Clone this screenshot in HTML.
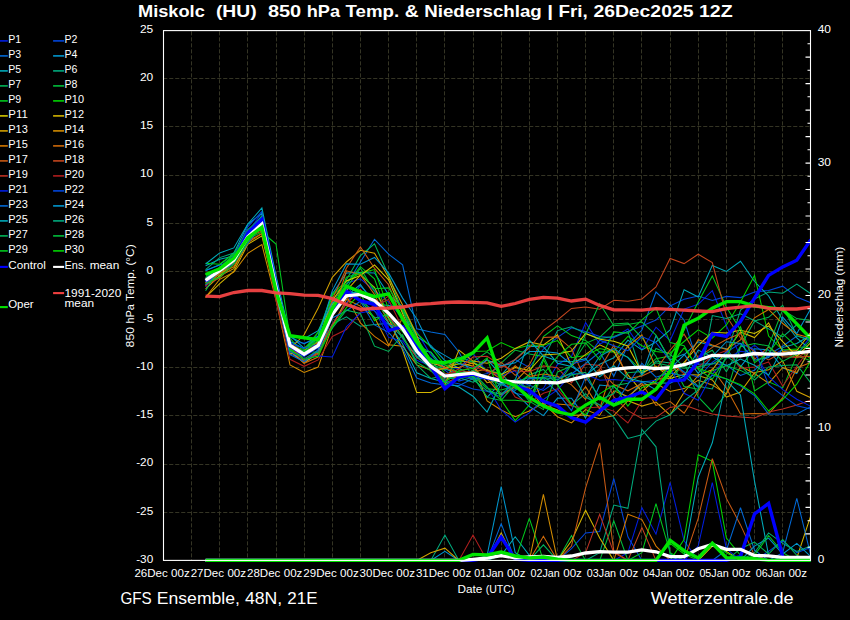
<!DOCTYPE html>
<html><head><meta charset="utf-8"><title>GFS Ensemble Miskolc</title>
<style>html,body{margin:0;padding:0;background:#000;overflow:hidden}svg{display:block;}text{font-family:"Liberation Sans",sans-serif;fill:#fff;}</style></head><body>
<svg width="850" height="620" viewBox="0 0 850 620">
<rect width="850" height="620" fill="#000"/>
<path d="M191.5 560.4 V30.6 M219.5 560.4 V30.6 M247.5 560.4 V30.6 M276.5 560.4 V30.6 M304.5 560.4 V30.6 M332.5 560.4 V30.6 M360.5 560.4 V30.6 M388.5 560.4 V30.6 M416.5 560.4 V30.6 M444.5 560.4 V30.6 M473.5 560.4 V30.6 M501.5 560.4 V30.6 M529.5 560.4 V30.6 M557.5 560.4 V30.6 M585.5 560.4 V30.6 M613.5 560.4 V30.6 M641.5 560.4 V30.6 M670.5 560.4 V30.6 M698.5 560.4 V30.6 M726.5 560.4 V30.6 M754.5 560.4 V30.6 M782.5 560.4 V30.6" stroke="#343424" stroke-width="1" stroke-dasharray="4.1 1.9" stroke-dashoffset="3" fill="none"/>
<path d="M163.2 512.5 H810.5 M163.2 464.5 H810.5 M163.2 415.5 H810.5 M163.2 367.5 H810.5 M163.2 319.5 H810.5 M163.2 271.5 H810.5 M163.2 223.5 H810.5 M163.2 175.5 H810.5 M163.2 126.5 H810.5 M163.2 78.5 H810.5" stroke="#343424" stroke-width="1" stroke-dasharray="4.1 1.9" fill="none"/>
<clipPath id="c"><rect x="163.5" y="30.6" width="647.6" height="532.8"/></clipPath>
<g clip-path="url(#c)" fill="none" stroke-linejoin="miter" stroke-miterlimit="3">
<path d="M205.6 286.8 L219.7 269.7 L233.8 258.1 L247.8 232.0 L261.9 212.8 L276.0 280.5 L290.0 342.2 L304.1 343.0 L318.2 339.5 L332.3 309.9 L346.4 283.2 L360.4 278.8 L374.5 290.5 L388.6 301.9 L402.6 318.4 L416.7 331.7 L430.8 355.1 L444.9 367.2 L458.9 368.5 L473.0 353.4 L487.1 372.4 L501.2 375.9 L515.2 370.7 L529.3 394.6 L543.4 388.4 L557.5 364.5 L571.5 356.4 L585.6 322.7 L599.7 344.0 L613.8 337.4 L627.9 329.0 L641.9 349.9 L656.0 327.2 L670.1 340.5 L684.1 309.1 L698.2 304.3 L712.3 290.7 L726.4 325.8 L740.5 356.7 L754.5 345.1 L768.6 357.2 L782.7 349.6 L796.8 354.5 L810.8 336.4" stroke="#001ee1" stroke-width="1.05"/>
<path d="M205.6 270.6 L219.7 265.0 L233.8 261.5 L247.8 236.1 L261.9 218.9 L276.0 293.2 L290.0 353.4 L304.1 361.9 L318.2 353.8 L332.3 324.3 L346.4 302.9 L360.4 285.8 L374.5 300.8 L388.6 313.3 L402.6 338.8 L416.7 356.0 L430.8 358.0 L444.9 370.1 L458.9 381.1 L473.0 377.3 L487.1 373.5 L501.2 366.5 L515.2 359.5 L529.3 367.4 L543.4 349.0 L557.5 337.4 L571.5 327.7 L585.6 331.6 L599.7 336.4 L613.8 337.4 L627.9 331.6 L641.9 326.0 L656.0 320.0 L670.1 306.0 L684.1 299.3 L698.2 296.0 L712.3 300.5 L726.4 296.4 L740.5 297.6 L754.5 292.0 L768.6 290.4 L782.7 286.2 L796.8 297.1 L810.8 302.7" stroke="#0046dc" stroke-width="1.05"/>
<path d="M205.6 281.1 L219.7 271.2 L233.8 259.4 L247.8 233.3 L261.9 216.1 L276.0 281.9 L290.0 350.8 L304.1 361.8 L318.2 349.6 L332.3 314.6 L346.4 285.0 L360.4 262.0 L374.5 239.3 L388.6 254.2 L402.6 264.8 L416.7 328.7 L430.8 332.0 L444.9 334.5 L458.9 352.0 L473.0 378.0 L487.1 377.5 L501.2 382.5 L515.2 393.3 L529.3 396.4 L543.4 375.7 L557.5 378.0 L571.5 373.9 L585.6 363.5 L599.7 352.1 L613.8 376.3 L627.9 345.0 L641.9 330.0 L656.0 292.0 L670.1 305.0 L684.1 320.0 L698.2 364.3 L712.3 363.5 L726.4 365.1 L740.5 375.4 L754.5 370.3 L768.6 354.6 L782.7 346.2 L796.8 336.0 L810.8 339.4" stroke="#0069d7" stroke-width="1.05"/>
<path d="M205.6 270.4 L219.7 264.8 L233.8 253.2 L247.8 224.4 L261.9 213.4 L276.0 277.2 L290.0 341.4 L304.1 348.8 L318.2 336.0 L332.3 294.0 L346.4 272.9 L360.4 272.6 L374.5 273.0 L388.6 294.6 L402.6 306.9 L416.7 336.7 L430.8 345.5 L444.9 360.5 L458.9 368.3 L473.0 376.2 L487.1 397.3 L501.2 382.1 L515.2 392.5 L529.3 406.5 L543.4 415.6 L557.5 398.1 L571.5 398.2 L585.6 417.9 L599.7 385.0 L613.8 386.6 L627.9 398.7 L641.9 381.8 L656.0 389.9 L670.1 368.9 L684.1 354.9 L698.2 341.8 L712.3 345.9 L726.4 348.8 L740.5 366.9 L754.5 348.7 L768.6 350.0 L782.7 367.9 L796.8 373.7 L810.8 347.3" stroke="#0096cd" stroke-width="1.05"/>
<path d="M205.6 265.7 L219.7 259.3 L233.8 256.0 L247.8 236.8 L261.9 219.8 L276.0 281.2 L290.0 335.7 L304.1 348.1 L318.2 338.3 L332.3 313.3 L346.4 295.9 L360.4 284.5 L374.5 303.8 L388.6 305.4 L402.6 307.2 L416.7 349.8 L430.8 352.0 L444.9 368.8 L458.9 374.2 L473.0 372.7 L487.1 359.3 L501.2 375.2 L515.2 359.4 L529.3 346.2 L543.4 346.7 L557.5 363.2 L571.5 366.6 L585.6 375.5 L599.7 364.2 L613.8 357.8 L627.9 340.1 L641.9 350.0 L656.0 342.0 L670.1 330.0 L684.1 289.7 L698.2 297.0 L712.3 265.4 L726.4 271.4 L740.5 261.3 L754.5 281.5 L768.6 296.0 L782.7 320.0 L796.8 338.0 L810.8 350.0" stroke="#00aab9" stroke-width="1.05"/>
<path d="M205.6 277.5 L219.7 269.3 L233.8 258.9 L247.8 236.3 L261.9 224.0 L276.0 289.4 L290.0 345.8 L304.1 358.9 L318.2 350.4 L332.3 324.3 L346.4 316.9 L360.4 326.3 L374.5 324.6 L388.6 323.4 L402.6 337.5 L416.7 356.8 L430.8 358.6 L444.9 379.1 L458.9 377.5 L473.0 382.3 L487.1 375.5 L501.2 393.7 L515.2 386.8 L529.3 386.0 L543.4 358.7 L557.5 330.6 L571.5 326.8 L585.6 333.5 L599.7 338.4 L613.8 336.4 L627.9 331.6 L641.9 375.0 L656.0 361.1 L670.1 363.0 L684.1 372.2 L698.2 386.3 L712.3 388.9 L726.4 355.3 L740.5 310.0 L754.5 299.0 L768.6 292.0 L782.7 293.3 L796.8 284.1 L810.8 293.8" stroke="#00aa7d" stroke-width="1.05"/>
<path d="M205.6 278.1 L219.7 273.2 L233.8 262.4 L247.8 236.6 L261.9 225.4 L276.0 291.0 L290.0 346.0 L304.1 352.4 L318.2 332.3 L332.3 304.5 L346.4 279.7 L360.4 255.7 L374.5 243.9 L388.6 275.3 L402.6 311.8 L416.7 337.8 L430.8 359.6 L444.9 363.5 L458.9 357.0 L473.0 361.8 L487.1 370.3 L501.2 373.5 L515.2 388.8 L529.3 374.9 L543.4 369.4 L557.5 384.9 L571.5 404.9 L585.6 393.6 L599.7 408.7 L613.8 385.7 L627.9 383.3 L641.9 374.5 L656.0 348.5 L670.1 354.3 L684.1 366.9 L698.2 357.7 L712.3 350.3 L726.4 371.7 L740.5 346.3 L754.5 320.9 L768.6 317.3 L782.7 305.3 L796.8 335.5 L810.8 341.1" stroke="#00b45a" stroke-width="1.05"/>
<path d="M205.6 274.5 L219.7 275.7 L233.8 261.3 L247.8 235.6 L261.9 223.7 L276.0 288.4 L290.0 347.0 L304.1 351.2 L318.2 336.9 L332.3 307.7 L346.4 287.9 L360.4 268.2 L374.5 291.5 L388.6 314.3 L402.6 326.6 L416.7 346.9 L430.8 364.3 L444.9 369.6 L458.9 361.3 L473.0 361.8 L487.1 351.9 L501.2 363.1 L515.2 350.0 L529.3 354.0 L543.4 356.4 L557.5 385.0 L571.5 364.8 L585.6 343.3 L599.7 337.4 L613.8 324.1 L627.9 323.1 L641.9 337.8 L656.0 356.3 L670.1 381.5 L684.1 362.3 L698.2 396.9 L712.3 411.7 L726.4 393.5 L740.5 346.7 L754.5 343.5 L768.6 346.0 L782.7 309.7 L796.8 318.6 L810.8 320.4" stroke="#00be3c" stroke-width="1.05"/>
<path d="M205.6 284.6 L219.7 276.0 L233.8 262.1 L247.8 239.2 L261.9 232.0 L276.0 244.0 L290.0 338.0 L304.1 355.1 L318.2 343.7 L332.3 295.3 L346.4 283.8 L360.4 266.7 L374.5 278.8 L388.6 318.2 L402.6 331.6 L416.7 344.6 L430.8 352.6 L444.9 373.7 L458.9 373.0 L473.0 375.9 L487.1 388.8 L501.2 390.0 L515.2 386.0 L529.3 374.5 L543.4 336.6 L557.5 325.9 L571.5 335.6 L585.6 340.4 L599.7 352.1 L613.8 351.7 L627.9 357.1 L641.9 371.1 L656.0 358.7 L670.1 356.0 L684.1 330.0 L698.2 302.0 L712.3 275.9 L726.4 307.0 L740.5 330.0 L754.5 390.9 L768.6 381.8 L782.7 387.9 L796.8 355.8 L810.8 360.8" stroke="#00c81e" stroke-width="1.05"/>
<path d="M205.6 263.3 L219.7 264.2 L233.8 253.5 L247.8 232.1 L261.9 217.8 L276.0 283.3 L290.0 345.9 L304.1 349.4 L318.2 332.2 L332.3 294.0 L346.4 281.1 L360.4 273.0 L374.5 269.6 L388.6 309.2 L402.6 307.8 L416.7 333.2 L430.8 346.8 L444.9 365.3 L458.9 364.2 L473.0 351.5 L487.1 351.0 L501.2 342.6 L515.2 348.8 L529.3 345.2 L543.4 345.2 L557.5 340.6 L571.5 357.7 L585.6 355.5 L599.7 348.5 L613.8 351.5 L627.9 336.4 L641.9 345.7 L656.0 351.6 L670.1 353.2 L684.1 341.5 L698.2 329.9 L712.3 338.2 L726.4 325.0 L740.5 302.0 L754.5 275.4 L768.6 336.0 L782.7 350.0 L796.8 349.0 L810.8 358.8" stroke="#00d400" stroke-width="1.05"/>
<path d="M205.6 283.2 L219.7 269.1 L233.8 261.6 L247.8 236.7 L261.9 225.3 L276.0 284.6 L290.0 354.0 L304.1 350.7 L318.2 341.1 L332.3 300.6 L346.4 281.0 L360.4 275.5 L374.5 265.0 L388.6 279.9 L402.6 313.6 L416.7 346.7 L430.8 362.7 L444.9 366.9 L458.9 367.5 L473.0 362.7 L487.1 370.8 L501.2 374.6 L515.2 367.5 L529.3 370.5 L543.4 355.0 L557.5 353.9 L571.5 351.0 L585.6 333.5 L599.7 339.3 L613.8 341.3 L627.9 346.0 L641.9 372.7 L656.0 366.3 L670.1 377.6 L684.1 362.5 L698.2 345.5 L712.3 332.3 L726.4 333.0 L740.5 330.3 L754.5 333.4 L768.6 326.0 L782.7 341.7 L796.8 356.4 L810.8 342.6" stroke="#d2c800" stroke-width="1.05"/>
<path d="M205.6 297.3 L219.7 283.6 L233.8 271.5 L247.8 244.3 L261.9 235.8 L276.0 296.3 L290.0 351.1 L304.1 363.1 L318.2 352.8 L332.3 304.3 L346.4 290.7 L360.4 275.2 L374.5 287.4 L388.6 318.0 L402.6 350.0 L416.7 392.5 L430.8 392.5 L444.9 385.0 L458.9 350.0 L473.0 361.1 L487.1 363.3 L501.2 358.2 L515.2 348.4 L529.3 341.9 L543.4 345.0 L557.5 334.9 L571.5 365.7 L585.6 354.3 L599.7 344.8 L613.8 351.5 L627.9 374.9 L641.9 391.6 L656.0 379.1 L670.1 378.6 L684.1 374.5 L698.2 375.0 L712.3 369.7 L726.4 351.3 L740.5 332.0 L754.5 337.6 L768.6 322.8 L782.7 351.4 L796.8 350.6 L810.8 332.3" stroke="#d2b400" stroke-width="1.05"/>
<path d="M205.6 288.9 L219.7 275.8 L233.8 268.6 L247.8 241.6 L261.9 226.3 L276.0 286.5 L290.0 348.8 L304.1 334.8 L318.2 308.0 L332.3 277.4 L346.4 262.0 L360.4 250.3 L374.5 253.2 L388.6 277.4 L402.6 305.0 L416.7 335.0 L430.8 370.9 L444.9 368.4 L458.9 363.6 L473.0 366.1 L487.1 382.7 L501.2 380.3 L515.2 381.5 L529.3 367.2 L543.4 404.8 L557.5 410.0 L571.5 415.2 L585.6 415.1 L599.7 418.8 L613.8 415.5 L627.9 400.7 L641.9 406.1 L656.0 402.0 L670.1 415.1 L684.1 392.2 L698.2 375.5 L712.3 379.9 L726.4 397.1 L740.5 392.1 L754.5 372.6 L768.6 369.7 L782.7 360.9 L796.8 391.3 L810.8 397.7" stroke="#d2a000" stroke-width="1.05"/>
<path d="M205.6 297.4 L219.7 279.3 L233.8 272.2 L247.8 253.3 L261.9 244.6 L276.0 300.2 L290.0 364.9 L304.1 372.5 L318.2 367.1 L332.3 326.2 L346.4 299.4 L360.4 306.1 L374.5 317.4 L388.6 344.8 L402.6 346.3 L416.7 364.9 L430.8 369.9 L444.9 368.2 L458.9 359.7 L473.0 363.8 L487.1 401.0 L501.2 410.0 L515.2 416.7 L529.3 411.0 L543.4 403.0 L557.5 416.7 L571.5 423.0 L585.6 409.6 L599.7 415.4 L613.8 390.8 L627.9 396.4 L641.9 385.2 L656.0 383.5 L670.1 391.5 L684.1 388.6 L698.2 380.3 L712.3 384.9 L726.4 393.9 L740.5 366.3 L754.5 373.5 L768.6 383.2 L782.7 367.5 L796.8 372.5 L810.8 348.2" stroke="#d28c00" stroke-width="1.05"/>
<path d="M205.6 285.6 L219.7 273.5 L233.8 266.8 L247.8 242.9 L261.9 233.6 L276.0 288.1 L290.0 347.2 L304.1 351.0 L318.2 342.4 L332.3 312.0 L346.4 295.4 L360.4 322.9 L374.5 336.4 L388.6 346.0 L402.6 317.8 L416.7 347.4 L430.8 366.1 L444.9 375.7 L458.9 378.0 L473.0 375.0 L487.1 378.6 L501.2 395.2 L515.2 386.7 L529.3 388.1 L543.4 407.4 L557.5 404.0 L571.5 405.2 L585.6 386.7 L599.7 408.9 L613.8 363.5 L627.9 346.4 L641.9 334.9 L656.0 368.3 L670.1 372.3 L684.1 363.9 L698.2 339.7 L712.3 345.1 L726.4 349.5 L740.5 339.9 L754.5 317.8 L768.6 309.5 L782.7 323.5 L796.8 334.3 L810.8 338.1" stroke="#d27800" stroke-width="1.05"/>
<path d="M205.6 283.0 L219.7 273.4 L233.8 262.9 L247.8 241.1 L261.9 233.5 L276.0 288.7 L290.0 348.2 L304.1 363.3 L318.2 357.1 L332.3 316.1 L346.4 270.8 L360.4 274.6 L374.5 294.4 L388.6 323.0 L402.6 330.8 L416.7 349.4 L430.8 363.9 L444.9 380.9 L458.9 372.4 L473.0 371.8 L487.1 369.3 L501.2 379.5 L515.2 365.8 L529.3 376.5 L543.4 374.1 L557.5 376.3 L571.5 384.9 L585.6 399.4 L599.7 369.8 L613.8 384.5 L627.9 390.8 L641.9 383.5 L656.0 405.4 L670.1 401.5 L684.1 413.2 L698.2 391.2 L712.3 368.7 L726.4 388.3 L740.5 414.0 L754.5 413.5 L768.6 414.0 L782.7 397.6 L796.8 368.0 L810.8 362.6" stroke="#cd690a" stroke-width="1.05"/>
<path d="M205.6 279.6 L219.7 269.0 L233.8 258.4 L247.8 236.7 L261.9 231.1 L276.0 281.8 L290.0 345.2 L304.1 361.1 L318.2 351.8 L332.3 299.6 L346.4 268.2 L360.4 246.9 L374.5 268.2 L388.6 284.7 L402.6 319.5 L416.7 349.9 L430.8 360.5 L444.9 367.7 L458.9 372.6 L473.0 371.3 L487.1 376.9 L501.2 362.2 L515.2 375.3 L529.3 364.9 L543.4 337.5 L557.5 336.9 L571.5 348.7 L585.6 380.3 L599.7 369.2 L613.8 345.2 L627.9 378.7 L641.9 376.0 L656.0 369.5 L670.1 350.0 L684.1 334.2 L698.2 357.8 L712.3 347.4 L726.4 339.5 L740.5 333.5 L754.5 359.3 L768.6 347.2 L782.7 356.8 L796.8 357.1 L810.8 356.2" stroke="#c85a14" stroke-width="1.05"/>
<path d="M205.6 285.0 L219.7 278.0 L233.8 264.4 L247.8 238.1 L261.9 221.6 L276.0 285.4 L290.0 343.5 L304.1 352.1 L318.2 344.0 L332.3 301.5 L346.4 291.5 L360.4 293.7 L374.5 299.5 L388.6 315.2 L402.6 337.3 L416.7 357.6 L430.8 365.6 L444.9 383.0 L458.9 377.3 L473.0 370.3 L487.1 360.1 L501.2 367.3 L515.2 359.5 L529.3 348.0 L543.4 330.6 L557.5 320.0 L571.5 308.4 L585.6 307.0 L599.7 309.3 L613.8 300.2 L627.9 301.2 L641.9 299.0 L656.0 287.0 L670.1 258.4 L684.1 263.6 L698.2 254.2 L712.3 262.5 L726.4 316.0 L740.5 338.0 L754.5 352.0 L768.6 360.0 L782.7 352.0 L796.8 358.0 L810.8 349.0" stroke="#c3461e" stroke-width="1.05"/>
<path d="M205.6 280.6 L219.7 270.5 L233.8 259.0 L247.8 237.0 L261.9 225.3 L276.0 285.5 L290.0 347.4 L304.1 359.4 L318.2 354.1 L332.3 324.5 L346.4 303.9 L360.4 289.3 L374.5 306.6 L388.6 295.9 L402.6 316.3 L416.7 340.4 L430.8 365.2 L444.9 375.6 L458.9 369.0 L473.0 357.1 L487.1 356.2 L501.2 365.5 L515.2 370.7 L529.3 371.7 L543.4 365.9 L557.5 367.8 L571.5 382.9 L585.6 364.0 L599.7 365.5 L613.8 397.0 L627.9 410.6 L641.9 418.4 L656.0 417.4 L670.1 407.4 L684.1 405.0 L698.2 410.0 L712.3 414.0 L726.4 416.0 L740.5 417.0 L754.5 418.0 L768.6 412.0 L782.7 409.0 L796.8 405.0 L810.8 400.0" stroke="#be3223" stroke-width="1.05"/>
<path d="M205.6 286.3 L219.7 269.2 L233.8 260.9 L247.8 238.1 L261.9 229.2 L276.0 300.3 L290.0 359.3 L304.1 366.3 L318.2 359.9 L332.3 336.5 L346.4 329.5 L360.4 312.0 L374.5 305.7 L388.6 299.5 L402.6 328.5 L416.7 353.4 L430.8 366.4 L444.9 373.9 L458.9 372.0 L473.0 366.4 L487.1 371.6 L501.2 375.0 L515.2 397.0 L529.3 402.9 L543.4 393.2 L557.5 388.8 L571.5 406.1 L585.6 408.0 L599.7 407.1 L613.8 411.1 L627.9 423.0 L641.9 400.9 L656.0 388.6 L670.1 362.2 L684.1 373.9 L698.2 367.2 L712.3 356.1 L726.4 350.5 L740.5 368.5 L754.5 366.9 L768.6 361.9 L782.7 386.0 L796.8 366.3 L810.8 347.2" stroke="#af1e1e" stroke-width="1.05"/>
<path d="M205.6 280.7 L219.7 267.5 L233.8 255.9 L247.8 229.8 L261.9 216.9 L276.0 288.4 L290.0 351.5 L304.1 359.0 L318.2 356.0 L332.3 357.0 L346.4 326.7 L360.4 313.0 L374.5 310.0 L388.6 337.4 L402.6 340.9 L416.7 360.2 L430.8 365.7 L444.9 374.6 L458.9 375.5 L473.0 373.9 L487.1 386.8 L501.2 409.9 L515.2 422.0 L529.3 412.9 L543.4 399.5 L557.5 389.9 L571.5 373.6 L585.6 374.3 L599.7 380.2 L613.8 379.6 L627.9 380.9 L641.9 381.9 L656.0 380.3 L670.1 367.6 L684.1 393.3 L698.2 400.3 L712.3 374.1 L726.4 358.5 L740.5 351.2 L754.5 353.1 L768.6 376.3 L782.7 389.6 L796.8 399.3 L810.8 406.4" stroke="#001ee1" stroke-width="1.05"/>
<path d="M205.6 281.0 L219.7 269.8 L233.8 258.0 L247.8 226.8 L261.9 211.3 L276.0 284.8 L290.0 343.1 L304.1 348.5 L318.2 344.3 L332.3 311.9 L346.4 286.5 L360.4 300.9 L374.5 311.0 L388.6 324.8 L402.6 329.1 L416.7 353.2 L430.8 368.8 L444.9 381.2 L458.9 383.8 L473.0 388.9 L487.1 391.2 L501.2 396.9 L515.2 379.4 L529.3 385.2 L543.4 390.4 L557.5 380.8 L571.5 363.9 L585.6 360.0 L599.7 340.2 L613.8 345.7 L627.9 350.7 L641.9 336.6 L656.0 342.7 L670.1 360.5 L684.1 371.9 L698.2 377.5 L712.3 362.4 L726.4 352.2 L740.5 343.3 L754.5 349.7 L768.6 384.7 L782.7 395.7 L796.8 405.8 L810.8 409.1" stroke="#0046dc" stroke-width="1.05"/>
<path d="M205.6 284.8 L219.7 271.4 L233.8 263.7 L247.8 243.1 L261.9 225.8 L276.0 292.8 L290.0 354.6 L304.1 361.6 L318.2 350.5 L332.3 318.0 L346.4 310.8 L360.4 301.2 L374.5 324.9 L388.6 332.4 L402.6 348.2 L416.7 378.0 L430.8 382.9 L444.9 385.0 L458.9 385.6 L473.0 378.6 L487.1 378.6 L501.2 384.4 L515.2 390.4 L529.3 378.4 L543.4 378.7 L557.5 392.7 L571.5 410.6 L585.6 376.9 L599.7 397.4 L613.8 405.5 L627.9 384.5 L641.9 363.3 L656.0 377.2 L670.1 372.9 L684.1 376.1 L698.2 387.2 L712.3 375.3 L726.4 378.8 L740.5 385.9 L754.5 395.6 L768.6 414.0 L782.7 414.0 L796.8 414.0 L810.8 406.6" stroke="#0069d7" stroke-width="1.05"/>
<path d="M205.6 281.9 L219.7 271.3 L233.8 257.1 L247.8 234.4 L261.9 217.5 L276.0 281.0 L290.0 336.8 L304.1 343.9 L318.2 336.3 L332.3 290.6 L346.4 263.9 L360.4 264.3 L374.5 257.5 L388.6 272.9 L402.6 298.1 L416.7 318.8 L430.8 347.3 L444.9 355.4 L458.9 363.6 L473.0 368.4 L487.1 360.1 L501.2 365.8 L515.2 362.8 L529.3 351.5 L543.4 351.5 L557.5 353.0 L571.5 364.7 L585.6 377.2 L599.7 356.3 L613.8 348.5 L627.9 357.6 L641.9 374.8 L656.0 335.8 L670.1 359.8 L684.1 354.1 L698.2 373.4 L712.3 356.5 L726.4 341.7 L740.5 343.6 L754.5 360.3 L768.6 357.6 L782.7 317.1 L796.8 333.5 L810.8 308.6" stroke="#0096cd" stroke-width="1.05"/>
<path d="M205.6 264.0 L219.7 252.9 L233.8 247.9 L247.8 224.0 L261.9 208.0 L276.0 275.8 L290.0 335.5 L304.1 338.7 L318.2 330.7 L332.3 303.0 L346.4 292.9 L360.4 291.9 L374.5 304.6 L388.6 323.3 L402.6 344.0 L416.7 372.8 L430.8 378.4 L444.9 382.2 L458.9 387.0 L473.0 396.2 L487.1 412.0 L501.2 383.5 L515.2 380.1 L529.3 340.1 L543.4 356.1 L557.5 360.9 L571.5 361.8 L585.6 358.7 L599.7 376.7 L613.8 365.8 L627.9 378.3 L641.9 381.5 L656.0 382.8 L670.1 383.2 L684.1 376.2 L698.2 350.1 L712.3 356.7 L726.4 365.8 L740.5 359.0 L754.5 365.3 L768.6 375.2 L782.7 347.6 L796.8 343.5 L810.8 335.0" stroke="#00aab9" stroke-width="1.05"/>
<path d="M205.6 269.7 L219.7 257.6 L233.8 253.1 L247.8 231.6 L261.9 215.9 L276.0 285.3 L290.0 351.4 L304.1 356.4 L318.2 347.5 L332.3 306.0 L346.4 290.5 L360.4 300.1 L374.5 317.9 L388.6 315.1 L402.6 326.0 L416.7 356.6 L430.8 368.2 L444.9 382.0 L458.9 371.9 L473.0 379.5 L487.1 390.8 L501.2 394.5 L515.2 381.6 L529.3 377.5 L543.4 377.6 L557.5 379.8 L571.5 372.8 L585.6 397.0 L599.7 405.0 L613.8 417.1 L627.9 438.4 L641.9 434.8 L656.0 421.1 L670.1 414.7 L684.1 401.0 L698.2 390.0 L712.3 315.6 L726.4 318.5 L740.5 313.7 L754.5 320.8 L768.6 328.9 L782.7 336.9 L796.8 324.8 L810.8 337.0" stroke="#00aa7d" stroke-width="1.05"/>
<path d="M205.6 290.8 L219.7 267.5 L233.8 257.1 L247.8 231.6 L261.9 222.7 L276.0 280.9 L290.0 348.0 L304.1 350.6 L318.2 352.8 L332.3 328.1 L346.4 310.2 L360.4 313.4 L374.5 346.2 L388.6 351.5 L402.6 334.6 L416.7 364.8 L430.8 378.4 L444.9 375.6 L458.9 379.8 L473.0 370.0 L487.1 377.6 L501.2 385.2 L515.2 379.9 L529.3 390.4 L543.4 377.7 L557.5 384.0 L571.5 375.0 L585.6 372.3 L599.7 400.0 L613.8 393.6 L627.9 372.7 L641.9 371.5 L656.0 362.8 L670.1 365.9 L684.1 368.3 L698.2 366.7 L712.3 363.9 L726.4 356.3 L740.5 365.7 L754.5 380.0 L768.6 366.9 L782.7 365.4 L796.8 364.8 L810.8 383.0" stroke="#00b45a" stroke-width="1.05"/>
<path d="M205.6 274.7 L219.7 267.7 L233.8 254.5 L247.8 229.5 L261.9 218.0 L276.0 283.4 L290.0 346.0 L304.1 353.1 L318.2 337.9 L332.3 307.8 L346.4 287.4 L360.4 291.2 L374.5 299.1 L388.6 319.0 L402.6 336.6 L416.7 362.1 L430.8 370.7 L444.9 385.0 L458.9 377.7 L473.0 376.4 L487.1 397.4 L501.2 400.4 L515.2 384.0 L529.3 401.2 L543.4 409.6 L557.5 372.0 L571.5 366.0 L585.6 334.5 L599.7 303.5 L613.8 325.8 L627.9 324.4 L641.9 322.0 L656.0 335.0 L670.1 360.2 L684.1 386.5 L698.2 389.2 L712.3 370.6 L726.4 365.8 L740.5 370.4 L754.5 377.4 L768.6 345.9 L782.7 361.4 L796.8 353.9 L810.8 340.1" stroke="#00be3c" stroke-width="1.05"/>
<path d="M205.6 283.6 L219.7 277.3 L233.8 264.2 L247.8 241.5 L261.9 225.4 L276.0 289.5 L290.0 350.0 L304.1 351.5 L318.2 340.3 L332.3 313.5 L346.4 277.2 L360.4 273.0 L374.5 288.7 L388.6 287.9 L402.6 310.3 L416.7 338.0 L430.8 362.6 L444.9 364.8 L458.9 372.6 L473.0 372.8 L487.1 387.4 L501.2 400.2 L515.2 400.2 L529.3 401.7 L543.4 374.2 L557.5 356.6 L571.5 344.3 L585.6 342.9 L599.7 359.9 L613.8 331.9 L627.9 333.2 L641.9 319.8 L656.0 308.1 L670.1 342.6 L684.1 345.8 L698.2 369.4 L712.3 379.0 L726.4 357.9 L740.5 326.9 L754.5 362.6 L768.6 353.1 L782.7 333.7 L796.8 346.9 L810.8 347.4" stroke="#00c81e" stroke-width="1.05"/>
<path d="M205.6 280.8 L219.7 271.8 L233.8 261.3 L247.8 240.3 L261.9 226.6 L276.0 288.5 L290.0 349.3 L304.1 359.5 L318.2 356.0 L332.3 326.6 L346.4 307.6 L360.4 293.6 L374.5 320.7 L388.6 312.9 L402.6 331.3 L416.7 347.6 L430.8 367.3 L444.9 382.4 L458.9 370.4 L473.0 368.6 L487.1 357.8 L501.2 400.0 L515.2 420.6 L529.3 405.0 L543.4 359.8 L557.5 385.0 L571.5 404.1 L585.6 414.9 L599.7 393.8 L613.8 385.0 L627.9 406.1 L641.9 387.8 L656.0 381.6 L670.1 365.4 L684.1 347.8 L698.2 368.3 L712.3 373.5 L726.4 379.0 L740.5 384.8 L754.5 393.9 L768.6 411.0 L782.7 399.5 L796.8 384.2 L810.8 361.0" stroke="#00d400" stroke-width="1.05"/>
<path d="M205.6 560.4 L219.7 560.4 L233.8 560.4 L247.8 560.4 L261.9 560.4 L276.0 560.4 L290.0 560.4 L304.1 560.4 L318.2 560.4 L332.3 560.4 L346.4 560.4 L360.4 560.4 L374.5 560.4 L388.6 560.4 L402.6 560.4 L416.7 560.4 L430.8 560.4 L444.9 560.4 L458.9 560.4 L473.0 560.4 L487.1 560.4 L501.2 560.4 L515.2 560.4 L529.3 560.4 L543.4 560.4 L557.5 560.4 L571.5 560.4 L585.6 560.4 L599.7 560.4 L613.8 560.4 L627.9 552.7 L641.9 507.7 L656.0 534.2 L670.1 482.5 L684.1 540.8 L698.2 560.4 L712.3 560.4 L726.4 560.4 L740.5 560.4 L754.5 560.4 L768.6 560.4 L782.7 560.4 L796.8 560.4 L810.8 560.4" stroke="#001ee1" stroke-width="1.05"/>
<path d="M205.6 560.4 L219.7 560.4 L233.8 560.4 L247.8 560.4 L261.9 560.4 L276.0 560.4 L290.0 560.4 L304.1 560.4 L318.2 560.4 L332.3 560.4 L346.4 560.4 L360.4 560.4 L374.5 560.4 L388.6 560.4 L402.6 560.4 L416.7 560.4 L430.8 560.4 L444.9 560.4 L458.9 560.4 L473.0 560.4 L487.1 560.4 L501.2 560.4 L515.2 560.4 L529.3 560.4 L543.4 560.4 L557.5 560.4 L571.5 548.7 L585.6 532.9 L599.7 531.5 L613.8 478.5 L627.9 536.8 L641.9 560.4 L656.0 560.4 L670.1 560.4 L684.1 560.4 L698.2 560.4 L712.3 560.4 L726.4 560.4 L740.5 560.4 L754.5 560.4 L768.6 560.4 L782.7 560.4 L796.8 560.4 L810.8 560.4" stroke="#0046dc" stroke-width="1.05"/>
<path d="M205.6 560.4 L219.7 560.4 L233.8 560.4 L247.8 560.4 L261.9 560.4 L276.0 560.4 L290.0 560.4 L304.1 560.4 L318.2 560.4 L332.3 560.4 L346.4 560.4 L360.4 560.4 L374.5 560.4 L388.6 560.4 L402.6 560.4 L416.7 560.4 L430.8 560.4 L444.9 560.4 L458.9 560.4 L473.0 560.4 L487.1 560.4 L501.2 523.6 L515.2 560.4 L529.3 560.4 L543.4 560.4 L557.5 560.4 L571.5 560.4 L585.6 560.4 L599.7 560.4 L613.8 560.4 L627.9 560.4 L641.9 560.4 L656.0 560.4 L670.1 560.4 L684.1 560.4 L698.2 560.4 L712.3 560.4 L726.4 560.4 L740.5 560.4 L754.5 560.4 L768.6 560.4 L782.7 560.4 L796.8 560.4 L810.8 560.4" stroke="#0069d7" stroke-width="1.05"/>
<path d="M205.6 560.4 L219.7 560.4 L233.8 560.4 L247.8 560.4 L261.9 560.4 L276.0 560.4 L290.0 560.4 L304.1 560.4 L318.2 560.4 L332.3 560.4 L346.4 560.4 L360.4 560.4 L374.5 560.4 L388.6 560.4 L402.6 560.4 L416.7 560.4 L430.8 560.4 L444.9 551.4 L458.9 560.4 L473.0 560.4 L487.1 555.4 L501.2 486.5 L515.2 552.7 L529.3 560.4 L543.4 560.4 L557.5 560.4 L571.5 560.4 L585.6 560.4 L599.7 560.4 L613.8 560.4 L627.9 560.4 L641.9 560.4 L656.0 560.4 L670.1 560.4 L684.1 560.4 L698.2 560.4 L712.3 560.4 L726.4 560.4 L740.5 560.4 L754.5 560.4 L768.6 560.4 L782.7 560.4 L796.8 560.4 L810.8 560.4" stroke="#0096cd" stroke-width="1.05"/>
<path d="M205.6 560.4 L219.7 560.4 L233.8 560.4 L247.8 560.4 L261.9 560.4 L276.0 560.4 L290.0 560.4 L304.1 560.4 L318.2 560.4 L332.3 560.4 L346.4 560.4 L360.4 560.4 L374.5 560.4 L388.6 560.4 L402.6 560.4 L416.7 560.4 L430.8 560.4 L444.9 560.4 L458.9 560.4 L473.0 560.4 L487.1 560.4 L501.2 555.4 L515.2 536.8 L529.3 555.4 L543.4 560.4 L557.5 560.4 L571.5 560.4 L585.6 560.4 L599.7 560.4 L613.8 560.4 L627.9 560.4 L641.9 560.4 L656.0 560.4 L670.1 560.4 L684.1 560.4 L698.2 560.4 L712.3 560.4 L726.4 560.4 L740.5 560.4 L754.5 560.4 L768.6 560.4 L782.7 560.4 L796.8 560.4 L810.8 560.4" stroke="#00aab9" stroke-width="1.05"/>
<path d="M205.6 560.4 L219.7 560.4 L233.8 560.4 L247.8 560.4 L261.9 560.4 L276.0 560.4 L290.0 560.4 L304.1 560.4 L318.2 560.4 L332.3 560.4 L346.4 560.4 L360.4 560.4 L374.5 560.4 L388.6 560.4 L402.6 560.4 L416.7 560.4 L430.8 560.4 L444.9 535.1 L458.9 560.4 L473.0 560.4 L487.1 560.4 L501.2 560.4 L515.2 560.4 L529.3 560.4 L543.4 560.4 L557.5 560.4 L571.5 560.4 L585.6 560.4 L599.7 552.7 L613.8 505.0 L627.9 508.3 L641.9 429.5 L656.0 446.8 L670.1 554.0 L684.1 560.4 L698.2 560.4 L712.3 560.4 L726.4 560.4 L740.5 560.4 L754.5 560.4 L768.6 560.4 L782.7 560.4 L796.8 560.4 L810.8 560.4" stroke="#00aa7d" stroke-width="1.05"/>
<path d="M205.6 560.4 L219.7 560.4 L233.8 560.4 L247.8 560.4 L261.9 560.4 L276.0 560.4 L290.0 560.4 L304.1 560.4 L318.2 560.4 L332.3 560.4 L346.4 560.4 L360.4 560.4 L374.5 560.4 L388.6 560.4 L402.6 560.4 L416.7 560.4 L430.8 560.4 L444.9 560.4 L458.9 560.4 L473.0 560.4 L487.1 560.4 L501.2 560.4 L515.2 560.4 L529.3 560.4 L543.4 544.8 L557.5 560.4 L571.5 560.4 L585.6 560.4 L599.7 560.4 L613.8 560.4 L627.9 560.4 L641.9 560.4 L656.0 560.4 L670.1 560.4 L684.1 560.4 L698.2 560.4 L712.3 560.4 L726.4 560.4 L740.5 560.4 L754.5 560.4 L768.6 560.4 L782.7 560.4 L796.8 560.4 L810.8 560.4" stroke="#00b45a" stroke-width="1.05"/>
<path d="M205.6 560.4 L219.7 560.4 L233.8 560.4 L247.8 560.4 L261.9 560.4 L276.0 560.4 L290.0 560.4 L304.1 560.4 L318.2 560.4 L332.3 560.4 L346.4 560.4 L360.4 560.4 L374.5 560.4 L388.6 560.4 L402.6 560.4 L416.7 560.4 L430.8 560.4 L444.9 560.4 L458.9 560.4 L473.0 560.4 L487.1 560.4 L501.2 560.4 L515.2 560.4 L529.3 560.4 L543.4 560.4 L557.5 560.4 L571.5 535.5 L585.6 560.4 L599.7 560.4 L613.8 520.9 L627.9 560.4 L641.9 560.4 L656.0 560.4 L670.1 560.4 L684.1 560.4 L698.2 560.4 L712.3 560.4 L726.4 560.4 L740.5 560.4 L754.5 560.4 L768.6 560.4 L782.7 560.4 L796.8 560.4 L810.8 560.4" stroke="#00be3c" stroke-width="1.05"/>
<path d="M205.6 560.4 L219.7 560.4 L233.8 560.4 L247.8 560.4 L261.9 560.4 L276.0 560.4 L290.0 560.4 L304.1 560.4 L318.2 560.4 L332.3 560.4 L346.4 560.4 L360.4 560.4 L374.5 560.4 L388.6 560.4 L402.6 560.4 L416.7 560.4 L430.8 560.4 L444.9 560.4 L458.9 560.4 L473.0 560.4 L487.1 560.4 L501.2 560.4 L515.2 560.4 L529.3 518.3 L543.4 560.4 L557.5 560.4 L571.5 560.4 L585.6 560.4 L599.7 560.4 L613.8 560.4 L627.9 560.4 L641.9 552.7 L656.0 503.7 L670.1 552.7 L684.1 560.4 L698.2 560.4 L712.3 560.4 L726.4 560.4 L740.5 560.4 L754.5 560.4 L768.6 560.4 L782.7 560.4 L796.8 560.4 L810.8 560.4" stroke="#00c81e" stroke-width="1.05"/>
<path d="M205.6 560.4 L219.7 560.4 L233.8 560.4 L247.8 560.4 L261.9 560.4 L276.0 560.4 L290.0 560.4 L304.1 560.4 L318.2 560.4 L332.3 560.4 L346.4 560.4 L360.4 560.4 L374.5 560.4 L388.6 560.4 L402.6 560.4 L416.7 560.4 L430.8 560.4 L444.9 560.4 L458.9 560.4 L473.0 560.4 L487.1 560.4 L501.2 560.4 L515.2 560.4 L529.3 560.4 L543.4 560.4 L557.5 560.4 L571.5 560.4 L585.6 560.4 L599.7 560.4 L613.8 560.4 L627.9 560.4 L641.9 560.4 L656.0 560.4 L670.1 560.4 L684.1 539.5 L698.2 454.7 L712.3 461.3 L726.4 538.1 L740.5 555.4 L754.5 560.4 L768.6 560.4 L782.7 560.4 L796.8 560.4 L810.8 560.4" stroke="#00d400" stroke-width="1.05"/>
<path d="M205.6 560.4 L219.7 560.4 L233.8 560.4 L247.8 560.4 L261.9 560.4 L276.0 560.4 L290.0 560.4 L304.1 560.4 L318.2 560.4 L332.3 560.4 L346.4 560.4 L360.4 560.4 L374.5 560.4 L388.6 560.4 L402.6 560.4 L416.7 560.4 L430.8 560.4 L444.9 560.4 L458.9 560.4 L473.0 560.4 L487.1 560.4 L501.2 560.4 L515.2 560.4 L529.3 560.4 L543.4 560.4 L557.5 560.4 L571.5 560.4 L585.6 560.4 L599.7 560.4 L613.8 560.4 L627.9 560.4 L641.9 560.4 L656.0 560.4 L670.1 560.4 L684.1 560.4 L698.2 560.4 L712.3 546.1 L726.4 551.4 L740.5 560.4 L754.5 560.4 L768.6 560.4 L782.7 560.4 L796.8 560.4 L810.8 560.4" stroke="#d2c800" stroke-width="1.05"/>
<path d="M205.6 560.4 L219.7 560.4 L233.8 560.4 L247.8 560.4 L261.9 560.4 L276.0 560.4 L290.0 560.4 L304.1 560.4 L318.2 560.4 L332.3 560.4 L346.4 560.4 L360.4 560.4 L374.5 560.4 L388.6 560.4 L402.6 560.4 L416.7 560.4 L430.8 560.4 L444.9 560.4 L458.9 560.4 L473.0 560.4 L487.1 560.4 L501.2 532.9 L515.2 560.4 L529.3 560.4 L543.4 560.4 L557.5 560.4 L571.5 540.8 L585.6 510.3 L599.7 538.1 L613.8 560.4 L627.9 560.4 L641.9 560.4 L656.0 560.4 L670.1 560.4 L684.1 560.4 L698.2 560.4 L712.3 560.4 L726.4 560.4 L740.5 560.4 L754.5 560.4 L768.6 560.4 L782.7 560.4 L796.8 558.0 L810.8 515.6" stroke="#d2b400" stroke-width="1.05"/>
<path d="M205.6 560.4 L219.7 560.4 L233.8 560.4 L247.8 560.4 L261.9 560.4 L276.0 560.4 L290.0 560.4 L304.1 560.4 L318.2 560.4 L332.3 560.4 L346.4 560.4 L360.4 560.4 L374.5 560.4 L388.6 560.4 L402.6 560.4 L416.7 560.4 L430.8 552.7 L444.9 548.2 L458.9 560.4 L473.0 560.4 L487.1 560.4 L501.2 560.4 L515.2 560.4 L529.3 560.4 L543.4 560.4 L557.5 560.4 L571.5 560.4 L585.6 560.4 L599.7 560.4 L613.8 560.4 L627.9 560.4 L641.9 560.4 L656.0 560.4 L670.1 560.4 L684.1 560.4 L698.2 560.4 L712.3 560.4 L726.4 560.4 L740.5 560.4 L754.5 560.4 L768.6 560.4 L782.7 560.4 L796.8 560.4 L810.8 560.4" stroke="#d2a000" stroke-width="1.05"/>
<path d="M205.6 560.4 L219.7 560.4 L233.8 560.4 L247.8 560.4 L261.9 560.4 L276.0 560.4 L290.0 560.4 L304.1 560.4 L318.2 560.4 L332.3 560.4 L346.4 560.4 L360.4 560.4 L374.5 560.4 L388.6 560.4 L402.6 560.4 L416.7 560.4 L430.8 560.4 L444.9 560.4 L458.9 560.4 L473.0 560.4 L487.1 560.4 L501.2 560.4 L515.2 560.4 L529.3 560.4 L543.4 494.4 L557.5 560.4 L571.5 560.4 L585.6 560.4 L599.7 560.4 L613.8 560.4 L627.9 560.4 L641.9 560.4 L656.0 560.4 L670.1 560.4 L684.1 560.4 L698.2 560.4 L712.3 560.4 L726.4 560.4 L740.5 560.4 L754.5 560.4 L768.6 560.4 L782.7 560.4 L796.8 560.4 L810.8 560.4" stroke="#d28c00" stroke-width="1.05"/>
<path d="M205.6 560.4 L219.7 560.4 L233.8 560.4 L247.8 560.4 L261.9 560.4 L276.0 560.4 L290.0 560.4 L304.1 560.4 L318.2 560.4 L332.3 560.4 L346.4 560.4 L360.4 560.4 L374.5 560.4 L388.6 560.4 L402.6 560.4 L416.7 560.4 L430.8 560.4 L444.9 560.4 L458.9 560.4 L473.0 560.4 L487.1 560.4 L501.2 560.4 L515.2 560.4 L529.3 560.4 L543.4 560.4 L557.5 560.4 L571.5 560.4 L585.6 560.4 L599.7 560.4 L613.8 560.4 L627.9 514.3 L641.9 519.6 L656.0 546.1 L670.1 560.4 L684.1 560.4 L698.2 560.4 L712.3 560.4 L726.4 560.4 L740.5 560.4 L754.5 560.4 L768.6 560.4 L782.7 560.4 L796.8 560.4 L810.8 560.4" stroke="#d27800" stroke-width="1.05"/>
<path d="M205.6 560.4 L219.7 560.4 L233.8 560.4 L247.8 560.4 L261.9 560.4 L276.0 560.4 L290.0 560.4 L304.1 560.4 L318.2 560.4 L332.3 560.4 L346.4 560.4 L360.4 560.4 L374.5 560.4 L388.6 560.4 L402.6 560.4 L416.7 560.4 L430.8 560.4 L444.9 560.4 L458.9 560.4 L473.0 560.4 L487.1 560.4 L501.2 560.4 L515.2 560.4 L529.3 560.4 L543.4 536.2 L557.5 560.4 L571.5 560.4 L585.6 560.4 L599.7 560.4 L613.8 560.4 L627.9 560.4 L641.9 560.4 L656.0 560.4 L670.1 560.4 L684.1 560.4 L698.2 560.4 L712.3 560.4 L726.4 560.4 L740.5 560.4 L754.5 560.4 L768.6 560.4 L782.7 560.4 L796.8 560.4 L810.8 560.4" stroke="#cd690a" stroke-width="1.05"/>
<path d="M205.6 560.4 L219.7 560.4 L233.8 560.4 L247.8 560.4 L261.9 560.4 L276.0 560.4 L290.0 560.4 L304.1 560.4 L318.2 560.4 L332.3 560.4 L346.4 560.4 L360.4 560.4 L374.5 560.4 L388.6 560.4 L402.6 560.4 L416.7 560.4 L430.8 560.4 L444.9 560.4 L458.9 560.4 L473.0 560.4 L487.1 560.4 L501.2 560.4 L515.2 560.4 L529.3 560.4 L543.4 560.4 L557.5 560.4 L571.5 546.1 L585.6 487.8 L599.7 442.8 L613.8 551.4 L627.9 560.4 L641.9 560.4 L656.0 560.4 L670.1 560.4 L684.1 560.4 L698.2 518.3 L712.3 458.7 L726.4 498.4 L740.5 524.9 L754.5 555.4 L768.6 560.4 L782.7 560.4 L796.8 560.4 L810.8 560.4" stroke="#c85a14" stroke-width="1.05"/>
<path d="M205.6 560.4 L219.7 560.4 L233.8 560.4 L247.8 560.4 L261.9 560.4 L276.0 560.4 L290.0 560.4 L304.1 560.4 L318.2 560.4 L332.3 560.4 L346.4 560.4 L360.4 560.4 L374.5 560.4 L388.6 560.4 L402.6 560.4 L416.7 560.4 L430.8 560.4 L444.9 560.4 L458.9 560.4 L473.0 560.4 L487.1 560.4 L501.2 560.4 L515.2 560.4 L529.3 560.4 L543.4 560.4 L557.5 560.4 L571.5 560.4 L585.6 560.4 L599.7 560.4 L613.8 560.4 L627.9 560.4 L641.9 527.6 L656.0 560.4 L670.1 560.4 L684.1 560.4 L698.2 560.4 L712.3 560.4 L726.4 560.4 L740.5 560.4 L754.5 560.4 L768.6 560.4 L782.7 560.4 L796.8 560.4 L810.8 560.4" stroke="#c3461e" stroke-width="1.05"/>
<path d="M205.6 560.4 L219.7 560.4 L233.8 560.4 L247.8 560.4 L261.9 560.4 L276.0 560.4 L290.0 560.4 L304.1 560.4 L318.2 560.4 L332.3 560.4 L346.4 560.4 L360.4 560.4 L374.5 560.4 L388.6 560.4 L402.6 560.4 L416.7 560.4 L430.8 560.4 L444.9 560.4 L458.9 560.4 L473.0 560.4 L487.1 560.4 L501.2 560.4 L515.2 560.4 L529.3 560.4 L543.4 560.4 L557.5 560.4 L571.5 560.4 L585.6 552.7 L599.7 514.3 L613.8 552.7 L627.9 560.4 L641.9 560.4 L656.0 560.4 L670.1 560.4 L684.1 560.4 L698.2 560.4 L712.3 560.4 L726.4 560.4 L740.5 560.4 L754.5 560.4 L768.6 560.4 L782.7 560.4 L796.8 560.4 L810.8 560.4" stroke="#be3223" stroke-width="1.05"/>
<path d="M205.6 560.4 L219.7 560.4 L233.8 560.4 L247.8 560.4 L261.9 560.4 L276.0 560.4 L290.0 560.4 L304.1 560.4 L318.2 560.4 L332.3 560.4 L346.4 560.4 L360.4 560.4 L374.5 560.4 L388.6 560.4 L402.6 560.4 L416.7 560.4 L430.8 560.4 L444.9 560.4 L458.9 560.4 L473.0 535.1 L487.1 560.4 L501.2 560.4 L515.2 560.4 L529.3 560.4 L543.4 560.4 L557.5 560.4 L571.5 560.4 L585.6 560.4 L599.7 560.4 L613.8 560.4 L627.9 560.4 L641.9 560.4 L656.0 560.4 L670.1 560.4 L684.1 560.4 L698.2 560.4 L712.3 560.4 L726.4 560.4 L740.5 560.4 L754.5 560.4 L768.6 560.4 L782.7 560.4 L796.8 560.4 L810.8 560.4" stroke="#af1e1e" stroke-width="1.05"/>
<path d="M205.6 560.4 L219.7 560.4 L233.8 560.4 L247.8 560.4 L261.9 560.4 L276.0 560.4 L290.0 560.4 L304.1 560.4 L318.2 560.4 L332.3 560.4 L346.4 560.4 L360.4 560.4 L374.5 560.4 L388.6 560.4 L402.6 560.4 L416.7 560.4 L430.8 560.4 L444.9 560.4 L458.9 560.4 L473.0 560.4 L487.1 560.4 L501.2 560.4 L515.2 560.4 L529.3 560.4 L543.4 560.4 L557.5 560.4 L571.5 560.4 L585.6 560.4 L599.7 560.4 L613.8 560.4 L627.9 560.4 L641.9 560.4 L656.0 560.4 L670.1 560.4 L684.1 560.4 L698.2 546.1 L712.3 482.5 L726.4 548.7 L740.5 560.4 L754.5 560.4 L768.6 560.4 L782.7 560.4 L796.8 560.4 L810.8 560.4" stroke="#001ee1" stroke-width="1.05"/>
<path d="M205.6 560.4 L219.7 560.4 L233.8 560.4 L247.8 560.4 L261.9 560.4 L276.0 560.4 L290.0 560.4 L304.1 560.4 L318.2 560.4 L332.3 560.4 L346.4 560.4 L360.4 560.4 L374.5 560.4 L388.6 560.4 L402.6 560.4 L416.7 560.4 L430.8 560.4 L444.9 560.4 L458.9 560.4 L473.0 560.4 L487.1 560.4 L501.2 560.4 L515.2 560.4 L529.3 560.4 L543.4 560.4 L557.5 560.4 L571.5 560.4 L585.6 560.4 L599.7 560.4 L613.8 560.4 L627.9 560.4 L641.9 560.4 L656.0 560.4 L670.1 560.4 L684.1 560.4 L698.2 560.4 L712.3 560.4 L726.4 560.4 L740.5 560.4 L754.5 560.4 L768.6 551.4 L782.7 540.8 L796.8 552.7 L810.8 547.4" stroke="#0046dc" stroke-width="1.05"/>
<path d="M205.6 560.4 L219.7 560.4 L233.8 560.4 L247.8 560.4 L261.9 560.4 L276.0 560.4 L290.0 560.4 L304.1 560.4 L318.2 560.4 L332.3 560.4 L346.4 560.4 L360.4 560.4 L374.5 560.4 L388.6 560.4 L402.6 560.4 L416.7 560.4 L430.8 560.4 L444.9 560.4 L458.9 560.4 L473.0 560.4 L487.1 560.4 L501.2 560.4 L515.2 560.4 L529.3 560.4 L543.4 560.4 L557.5 560.4 L571.5 560.4 L585.6 560.4 L599.7 560.4 L613.8 560.4 L627.9 560.4 L641.9 560.4 L656.0 560.4 L670.1 560.4 L684.1 560.4 L698.2 560.4 L712.3 560.4 L726.4 550.1 L740.5 507.7 L754.5 550.1 L768.6 560.4 L782.7 552.7 L796.8 498.4 L810.8 555.4" stroke="#0069d7" stroke-width="1.05"/>
<path d="M205.6 560.4 L219.7 560.4 L233.8 560.4 L247.8 560.4 L261.9 560.4 L276.0 560.4 L290.0 560.4 L304.1 560.4 L318.2 560.4 L332.3 560.4 L346.4 560.4 L360.4 560.4 L374.5 560.4 L388.6 560.4 L402.6 560.4 L416.7 560.4 L430.8 560.4 L444.9 560.4 L458.9 560.4 L473.0 560.4 L487.1 560.4 L501.2 560.4 L515.2 560.4 L529.3 560.4 L543.4 560.4 L557.5 560.4 L571.5 560.4 L585.6 560.4 L599.7 560.4 L613.8 560.4 L627.9 560.4 L641.9 560.4 L656.0 560.4 L670.1 560.4 L684.1 560.4 L698.2 560.4 L712.3 560.4 L726.4 560.4 L740.5 560.4 L754.5 546.1 L768.6 538.1 L782.7 554.0 L796.8 543.4 L810.8 556.7" stroke="#0096cd" stroke-width="1.05"/>
<path d="M205.6 560.4 L219.7 560.4 L233.8 560.4 L247.8 560.4 L261.9 560.4 L276.0 560.4 L290.0 560.4 L304.1 560.4 L318.2 560.4 L332.3 560.4 L346.4 560.4 L360.4 560.4 L374.5 560.4 L388.6 560.4 L402.6 560.4 L416.7 560.4 L430.8 560.4 L444.9 560.4 L458.9 560.4 L473.0 560.4 L487.1 560.4 L501.2 560.4 L515.2 560.4 L529.3 560.4 L543.4 560.4 L557.5 560.4 L571.5 560.4 L585.6 560.4 L599.7 560.4 L613.8 560.4 L627.9 560.4 L641.9 560.4 L656.0 560.4 L670.1 560.4 L684.1 555.4 L698.2 477.2 L712.3 442.8 L726.4 380.5 L740.5 395.1 L754.5 481.2 L768.6 555.4 L782.7 560.4 L796.8 560.4 L810.8 560.4" stroke="#00aab9" stroke-width="1.05"/>
<path d="M205.6 560.4 L219.7 560.4 L233.8 560.4 L247.8 560.4 L261.9 560.4 L276.0 560.4 L290.0 560.4 L304.1 560.4 L318.2 560.4 L332.3 560.4 L346.4 560.4 L360.4 560.4 L374.5 560.4 L388.6 560.4 L402.6 560.4 L416.7 560.4 L430.8 560.4 L444.9 560.4 L458.9 560.4 L473.0 560.4 L487.1 560.4 L501.2 560.4 L515.2 560.4 L529.3 560.4 L543.4 560.4 L557.5 560.4 L571.5 560.4 L585.6 560.4 L599.7 560.4 L613.8 560.4 L627.9 560.4 L641.9 560.4 L656.0 560.4 L670.1 560.4 L684.1 560.4 L698.2 560.4 L712.3 560.4 L726.4 560.4 L740.5 560.4 L754.5 552.7 L768.6 532.9 L782.7 543.4 L796.8 551.4 L810.8 546.1" stroke="#00aa7d" stroke-width="1.05"/>
<path d="M205.6 560.4 L219.7 560.4 L233.8 560.4 L247.8 560.4 L261.9 560.4 L276.0 560.4 L290.0 560.4 L304.1 560.4 L318.2 560.4 L332.3 560.4 L346.4 560.4 L360.4 560.4 L374.5 560.4 L388.6 560.4 L402.6 560.4 L416.7 560.4 L430.8 560.4 L444.9 560.4 L458.9 560.4 L473.0 560.4 L487.1 560.4 L501.2 560.4 L515.2 560.4 L529.3 560.4 L543.4 560.4 L557.5 560.4 L571.5 560.4 L585.6 560.4 L599.7 560.4 L613.8 560.4 L627.9 560.4 L641.9 560.4 L656.0 560.4 L670.1 560.4 L684.1 560.4 L698.2 560.4 L712.3 560.4 L726.4 560.4 L740.5 548.7 L754.5 542.1 L768.6 554.0 L782.7 539.5 L796.8 555.4 L810.8 560.4" stroke="#00b45a" stroke-width="1.05"/>
<path d="M205.6 560.4 L219.7 560.4 L233.8 560.4 L247.8 560.4 L261.9 560.4 L276.0 560.4 L290.0 560.4 L304.1 560.4 L318.2 560.4 L332.3 560.4 L346.4 560.4 L360.4 560.4 L374.5 560.4 L388.6 560.4 L402.6 560.4 L416.7 560.4 L430.8 560.4 L444.9 560.4 L458.9 560.4 L473.0 560.4 L487.1 560.4 L501.2 560.4 L515.2 560.4 L529.3 560.4 L543.4 560.4 L557.5 560.4 L571.5 560.4 L585.6 560.4 L599.7 560.4 L613.8 560.4 L627.9 560.4 L641.9 560.4 L656.0 560.4 L670.1 560.4 L684.1 560.4 L698.2 560.4 L712.3 560.4 L726.4 560.4 L740.5 560.4 L754.5 560.4 L768.6 560.4 L782.7 560.4 L796.8 560.4 L810.8 560.4" stroke="#00be3c" stroke-width="1.05"/>
<path d="M205.6 560.4 L219.7 560.4 L233.8 560.4 L247.8 560.4 L261.9 560.4 L276.0 560.4 L290.0 560.4 L304.1 560.4 L318.2 560.4 L332.3 560.4 L346.4 560.4 L360.4 560.4 L374.5 560.4 L388.6 560.4 L402.6 560.4 L416.7 560.4 L430.8 560.4 L444.9 560.4 L458.9 560.4 L473.0 560.4 L487.1 560.4 L501.2 560.4 L515.2 560.4 L529.3 560.4 L543.4 560.4 L557.5 560.4 L571.5 560.4 L585.6 560.4 L599.7 560.4 L613.8 560.4 L627.9 560.4 L641.9 560.4 L656.0 560.4 L670.1 560.4 L684.1 560.4 L698.2 560.4 L712.3 560.4 L726.4 560.4 L740.5 560.4 L754.5 555.4 L768.6 535.5 L782.7 552.7 L796.8 560.4 L810.8 560.4" stroke="#00c81e" stroke-width="1.05"/>
<path d="M205.6 560.4 L219.7 560.4 L233.8 560.4 L247.8 560.4 L261.9 560.4 L276.0 560.4 L290.0 560.4 L304.1 560.4 L318.2 560.4 L332.3 560.4 L346.4 560.4 L360.4 560.4 L374.5 560.4 L388.6 560.4 L402.6 560.4 L416.7 560.4 L430.8 560.4 L444.9 560.4 L458.9 560.4 L473.0 560.4 L487.1 560.4 L501.2 560.4 L515.2 560.4 L529.3 560.4 L543.4 560.4 L557.5 560.4 L571.5 560.4 L585.6 560.4 L599.7 560.4 L613.8 560.4 L627.9 560.4 L641.9 560.4 L656.0 560.4 L670.1 543.4 L684.1 554.0 L698.2 560.4 L712.3 542.1 L726.4 552.7 L740.5 560.4 L754.5 560.4 L768.6 560.4 L782.7 560.4 L796.8 560.4 L810.8 560.4" stroke="#00d400" stroke-width="1.05"/>
<path d="M205.6 281.3 L219.7 269.6 L233.8 259.0 L247.8 232.9 L261.9 219.3 L276.0 285.0 L290.0 346.0 L304.1 355.0 L318.2 346.0 L332.3 312.0 L346.4 291.0 L360.4 300.6 L374.5 304.5 L388.6 330.6 L402.6 326.7 L416.7 345.0 L430.8 366.4 L444.9 388.7 L458.9 377.0 L473.0 374.0 L487.1 378.0 L501.2 380.0 L515.2 385.8 L529.3 390.6 L543.4 401.3 L557.5 406.1 L571.5 417.7 L585.6 422.1 L599.7 410.9 L613.8 400.3 L627.9 397.4 L641.9 392.0 L656.0 399.3 L670.1 380.8 L684.1 379.9 L698.2 361.3 L712.3 333.9 L726.4 336.5 L740.5 321.4 L754.5 298.2 L768.6 275.4 L782.7 266.9 L796.8 260.2 L810.8 239.7" stroke="#0000ff" stroke-width="3.4"/>
<path d="M205.6 280.3 L219.7 270.6 L233.8 260.0 L247.8 236.8 L261.9 224.2 L276.0 287.0 L290.0 345.5 L304.1 354.2 L318.2 345.5 L332.3 314.5 L346.4 295.8 L360.4 294.4 L374.5 300.6 L388.6 313.2 L402.6 328.7 L416.7 351.0 L430.8 366.4 L444.9 376.1 L458.9 374.7 L473.0 373.2 L487.1 377.3 L501.2 380.9 L515.2 381.9 L529.3 382.3 L543.4 382.3 L557.5 382.9 L571.5 379.6 L585.6 376.1 L599.7 373.2 L613.8 369.3 L627.9 367.8 L641.9 367.2 L656.0 368.7 L670.1 367.6 L684.1 364.7 L698.2 360.2 L712.3 355.3 L726.4 355.8 L740.5 355.8 L754.5 353.5 L768.6 354.2 L782.7 354.2 L796.8 352.9 L810.8 351.3" stroke="#ffffff" stroke-width="3.3"/>
<path d="M205.6 274.5 L219.7 268.7 L233.8 258.0 L247.8 237.7 L261.9 227.1 L276.0 291.0 L290.0 335.8 L304.1 337.7 L318.2 339.7 L332.3 308.7 L346.4 286.1 L360.4 291.9 L374.5 296.7 L388.6 293.8 L402.6 319.0 L416.7 341.7 L430.8 361.6 L444.9 362.6 L458.9 359.7 L473.0 352.9 L487.1 337.9 L501.2 380.0 L515.2 385.8 L529.3 397.4 L543.4 406.1 L557.5 411.9 L571.5 414.8 L585.6 405.1 L599.7 397.4 L613.8 405.1 L627.9 399.3 L641.9 399.3 L656.0 389.3 L670.1 371.4 L684.1 325.3 L698.2 318.3 L712.3 308.3 L726.4 301.6 L740.5 301.6 L754.5 306.0 L768.6 307.6 L782.7 309.4 L796.8 323.9 L810.8 338.5" stroke="#00e400" stroke-width="3.4"/>
<path d="M205.6 296.2 L219.7 296.7 L233.8 292.5 L247.8 290.5 L261.9 290.5 L276.0 292.9 L290.0 293.6 L304.1 295.2 L318.2 295.4 L332.3 298.7 L346.4 304.5 L360.4 309.3 L374.5 308.4 L388.6 308.0 L402.6 307.0 L416.7 304.5 L430.8 303.7 L444.9 302.5 L458.9 302.0 L473.0 302.4 L487.1 302.8 L501.2 306.4 L515.2 303.5 L529.3 299.3 L543.4 297.3 L557.5 298.1 L571.5 301.0 L585.6 299.1 L599.7 305.4 L613.8 309.9 L627.9 309.9 L641.9 310.1 L656.0 308.7 L670.1 309.4 L684.1 310.1 L698.2 311.0 L712.3 311.6 L726.4 308.7 L740.5 307.2 L754.5 305.6 L768.6 308.3 L782.7 309.0 L796.8 309.0 L810.8 307.2" stroke="#f44444" stroke-width="3.3" stroke-opacity="0.94"/>
<path d="M205.6 560.4 L219.7 560.4 L233.8 560.4 L247.8 560.4 L261.9 560.4 L276.0 560.4 L290.0 560.4 L304.1 560.4 L318.2 560.4 L332.3 560.4 L346.4 560.4 L360.4 560.4 L374.5 560.4 L388.6 560.4 L402.6 560.4 L416.7 560.4 L430.8 560.4 L444.9 560.4 L458.9 560.4 L473.0 560.4 L487.1 557.8 L501.2 537.2 L515.2 559.1 L529.3 560.4 L543.4 560.4 L557.5 560.4 L571.5 560.4 L585.6 560.4 L599.7 560.4 L613.8 560.4 L627.9 560.4 L641.9 560.4 L656.0 560.4 L670.1 560.4 L684.1 560.4 L698.2 560.4 L712.3 560.4 L726.4 560.4 L740.5 556.4 L754.5 514.0 L768.6 503.4 L782.7 556.4 L796.8 560.4 L810.8 560.4" stroke="#0000ff" stroke-width="3.4"/>
<path d="M205.6 560.4 L219.7 560.4 L233.8 560.4 L247.8 560.4 L261.9 560.4 L276.0 560.4 L290.0 560.4 L304.1 560.4 L318.2 560.4 L332.3 560.4 L346.4 560.4 L360.4 560.4 L374.5 560.4 L388.6 560.4 L402.6 560.4 L416.7 560.4 L430.8 560.4 L444.9 560.4 L458.9 560.4 L473.0 559.3 L487.1 558.0 L501.2 555.6 L515.2 557.8 L529.3 557.0 L543.4 556.4 L557.5 557.5 L571.5 556.0 L585.6 553.0 L599.7 551.7 L613.8 552.1 L627.9 552.1 L641.9 549.8 L656.0 551.8 L670.1 556.6 L684.1 556.6 L698.2 548.7 L712.3 544.6 L726.4 549.3 L740.5 549.3 L754.5 555.5 L768.6 555.9 L782.7 557.5 L796.8 557.5 L810.8 557.5" stroke="#ffffff" stroke-width="3.3"/>
<path d="M205.6 560.4 L219.7 560.4 L233.8 560.4 L247.8 560.4 L261.9 560.4 L276.0 560.4 L290.0 560.4 L304.1 560.4 L318.2 560.4 L332.3 560.4 L346.4 560.4 L360.4 560.4 L374.5 560.4 L388.6 560.4 L402.6 560.4 L416.7 560.4 L430.8 560.4 L444.9 560.4 L458.9 560.4 L473.0 554.4 L487.1 555.0 L501.2 552.1 L515.2 556.0 L529.3 558.0 L543.4 557.0 L557.5 559.3 L571.5 560.4 L585.6 560.4 L599.7 560.4 L613.8 560.4 L627.9 560.4 L641.9 560.4 L656.0 560.4 L670.1 540.5 L684.1 550.7 L698.2 558.0 L712.3 543.2 L726.4 557.8 L740.5 558.0 L754.5 558.8 L768.6 560.4 L782.7 560.4 L796.8 560.4 L810.8 560.4" stroke="#00e400" stroke-width="3.4"/>
</g>
<rect x="163.5" y="30.6" width="647.0" height="529.8" stroke="#fff" stroke-width="1.1" fill="none"/>
<path d="M810.5 547.2 h-3.0 M810.5 533.9 h-5.0 M810.5 520.7 h-3.0 M810.5 507.4 h-5.0 M810.5 494.2 h-3.0 M810.5 480.9 h-5.0 M810.5 467.7 h-3.0 M810.5 454.4 h-5.0 M810.5 441.2 h-3.0 M810.5 427.9 h-5.0 M810.5 414.7 h-3.0 M810.5 401.5 h-5.0 M810.5 388.2 h-3.0 M810.5 375.0 h-5.0 M810.5 361.7 h-3.0 M810.5 348.5 h-5.0 M810.5 335.2 h-3.0 M810.5 322.0 h-5.0 M810.5 308.7 h-3.0 M810.5 295.5 h-5.0 M810.5 282.3 h-3.0 M810.5 269.0 h-5.0 M810.5 255.8 h-3.0 M810.5 242.5 h-5.0 M810.5 229.3 h-3.0 M810.5 216.0 h-5.0 M810.5 202.8 h-3.0 M810.5 189.5 h-5.0 M810.5 176.3 h-3.0 M810.5 163.1 h-5.0 M810.5 149.8 h-3.0 M810.5 136.6 h-5.0 M810.5 123.3 h-3.0 M810.5 110.1 h-5.0 M810.5 96.8 h-3.0 M810.5 83.6 h-5.0 M810.5 70.3 h-3.0 M810.5 57.1 h-5.0 M810.5 43.8 h-3.0" stroke="#fff" stroke-width="1.1" fill="none"/>
<text x="138.0" y="17.2" font-size="16.5" textLength="66.8" lengthAdjust="spacingAndGlyphs" font-weight="bold">Miskolc</text><text x="215.9" y="17.2" font-size="16.5" textLength="40.8" lengthAdjust="spacingAndGlyphs" font-weight="bold">(HU)</text><text x="267.9" y="17.2" font-size="16.5" textLength="33.3" lengthAdjust="spacingAndGlyphs" font-weight="bold">850</text><text x="306.7" y="17.2" font-size="16.5" textLength="33.3" lengthAdjust="spacingAndGlyphs" font-weight="bold">hPa</text><text x="345.6" y="17.2" font-size="16.5" textLength="53.6" lengthAdjust="spacingAndGlyphs" font-weight="bold">Temp.</text><text x="404.7" y="17.2" font-size="16.5" textLength="13.9" lengthAdjust="spacingAndGlyphs" font-weight="bold">&amp;</text><text x="424.2" y="17.2" font-size="16.5" textLength="117.6" lengthAdjust="spacingAndGlyphs" font-weight="bold">Niederschlag</text><text x="547.3" y="17.2" font-size="16.5" textLength="5.8" lengthAdjust="spacingAndGlyphs" font-weight="bold">|</text><text x="558.6" y="17.2" font-size="16.5" textLength="29.2" lengthAdjust="spacingAndGlyphs" font-weight="bold">Fri,</text><text x="593.4" y="17.2" font-size="16.5" textLength="100.0" lengthAdjust="spacingAndGlyphs" font-weight="bold">26Dec2025</text><text x="699.0" y="17.2" font-size="16.5" textLength="33.7" lengthAdjust="spacingAndGlyphs" font-weight="bold">12Z</text>
<text x="120.4" y="603.7" font-size="16.2" textLength="31.3" lengthAdjust="spacingAndGlyphs">GFS</text><text x="156.8" y="603.7" font-size="16.2" textLength="83.1" lengthAdjust="spacingAndGlyphs">Ensemble,</text><text x="245.0" y="603.7" font-size="16.2" textLength="37.2" lengthAdjust="spacingAndGlyphs">48N,</text><text x="287.3" y="603.7" font-size="16.2" textLength="30.3" lengthAdjust="spacingAndGlyphs">21E</text>
<text x="650.7" y="603.7" font-size="16.2" textLength="142.9" lengthAdjust="spacingAndGlyphs">Wetterzentrale.de</text>
<text x="134.4" y="577.2" font-size="10.4" textLength="33.4" lengthAdjust="spacingAndGlyphs">26Dec</text><text x="171.1" y="577.2" font-size="10.4" textLength="18.7" lengthAdjust="spacingAndGlyphs">00z</text>
<text x="190.7" y="577.2" font-size="10.4" textLength="33.4" lengthAdjust="spacingAndGlyphs">27Dec</text><text x="227.4" y="577.2" font-size="10.4" textLength="18.7" lengthAdjust="spacingAndGlyphs">00z</text>
<text x="247.0" y="577.2" font-size="10.4" textLength="33.4" lengthAdjust="spacingAndGlyphs">28Dec</text><text x="283.7" y="577.2" font-size="10.4" textLength="18.7" lengthAdjust="spacingAndGlyphs">00z</text>
<text x="303.3" y="577.2" font-size="10.4" textLength="33.4" lengthAdjust="spacingAndGlyphs">29Dec</text><text x="340.0" y="577.2" font-size="10.4" textLength="18.7" lengthAdjust="spacingAndGlyphs">00z</text>
<text x="359.6" y="577.2" font-size="10.4" textLength="33.4" lengthAdjust="spacingAndGlyphs">30Dec</text><text x="396.3" y="577.2" font-size="10.4" textLength="18.7" lengthAdjust="spacingAndGlyphs">00z</text>
<text x="415.9" y="577.2" font-size="10.4" textLength="33.4" lengthAdjust="spacingAndGlyphs">31Dec</text><text x="452.6" y="577.2" font-size="10.4" textLength="18.7" lengthAdjust="spacingAndGlyphs">00z</text>
<text x="474.2" y="577.2" font-size="10.4" textLength="29.3" lengthAdjust="spacingAndGlyphs">01Jan</text><text x="506.9" y="577.2" font-size="10.4" textLength="18.7" lengthAdjust="spacingAndGlyphs">00z</text>
<text x="530.5" y="577.2" font-size="10.4" textLength="29.3" lengthAdjust="spacingAndGlyphs">02Jan</text><text x="563.2" y="577.2" font-size="10.4" textLength="18.7" lengthAdjust="spacingAndGlyphs">00z</text>
<text x="586.8" y="577.2" font-size="10.4" textLength="29.3" lengthAdjust="spacingAndGlyphs">03Jan</text><text x="619.5" y="577.2" font-size="10.4" textLength="18.7" lengthAdjust="spacingAndGlyphs">00z</text>
<text x="643.1" y="577.2" font-size="10.4" textLength="29.3" lengthAdjust="spacingAndGlyphs">04Jan</text><text x="675.8" y="577.2" font-size="10.4" textLength="18.7" lengthAdjust="spacingAndGlyphs">00z</text>
<text x="699.4" y="577.2" font-size="10.4" textLength="29.3" lengthAdjust="spacingAndGlyphs">05Jan</text><text x="732.1" y="577.2" font-size="10.4" textLength="18.7" lengthAdjust="spacingAndGlyphs">00z</text>
<text x="755.7" y="577.2" font-size="10.4" textLength="29.3" lengthAdjust="spacingAndGlyphs">06Jan</text><text x="788.4" y="577.2" font-size="10.4" textLength="18.7" lengthAdjust="spacingAndGlyphs">00z</text>
<text x="457.5" y="592.5" font-size="10.4" textLength="24.9" lengthAdjust="spacingAndGlyphs">Date</text><text x="485.7" y="592.5" font-size="10.4" textLength="28.8" lengthAdjust="spacingAndGlyphs">(UTC)</text>
<text x="136.2" y="562.6" font-size="10.4" textLength="17.0" lengthAdjust="spacingAndGlyphs">-30</text>
<text x="136.2" y="514.5" font-size="10.4" textLength="17.0" lengthAdjust="spacingAndGlyphs">-25</text>
<text x="136.2" y="466.3" font-size="10.4" textLength="17.0" lengthAdjust="spacingAndGlyphs">-20</text>
<text x="136.2" y="418.1" font-size="10.4" textLength="17.0" lengthAdjust="spacingAndGlyphs">-15</text>
<text x="136.2" y="370.0" font-size="10.4" textLength="17.0" lengthAdjust="spacingAndGlyphs">-10</text>
<text x="142.8" y="321.8" font-size="10.4" textLength="10.4" lengthAdjust="spacingAndGlyphs">-5</text>
<text x="146.6" y="273.6" font-size="10.4" textLength="6.6" lengthAdjust="spacingAndGlyphs">0</text>
<text x="146.6" y="225.5" font-size="10.4" textLength="6.6" lengthAdjust="spacingAndGlyphs">5</text>
<text x="139.9" y="177.3" font-size="10.4" textLength="13.3" lengthAdjust="spacingAndGlyphs">10</text>
<text x="139.9" y="129.1" font-size="10.4" textLength="13.3" lengthAdjust="spacingAndGlyphs">15</text>
<text x="139.9" y="81.0" font-size="10.4" textLength="13.3" lengthAdjust="spacingAndGlyphs">20</text>
<text x="139.9" y="32.8" font-size="10.4" textLength="13.3" lengthAdjust="spacingAndGlyphs">25</text>
<text x="817.7" y="563.1" font-size="10.4" textLength="6.6" lengthAdjust="spacingAndGlyphs">0</text>
<text x="817.7" y="430.6" font-size="10.4" textLength="13.3" lengthAdjust="spacingAndGlyphs">10</text>
<text x="817.7" y="298.2" font-size="10.4" textLength="13.3" lengthAdjust="spacingAndGlyphs">20</text>
<text x="817.7" y="165.8" font-size="10.4" textLength="13.3" lengthAdjust="spacingAndGlyphs">30</text>
<text x="817.7" y="33.3" font-size="10.4" textLength="13.3" lengthAdjust="spacingAndGlyphs">40</text>
<g transform="translate(134.2 295.9) rotate(-90)"><text x="-51.5" y="0.0" font-size="10.7" textLength="20.4" lengthAdjust="spacingAndGlyphs">850</text><text x="-27.7" y="0.0" font-size="10.7" textLength="19.3" lengthAdjust="spacingAndGlyphs">hPa</text><text x="-5.0" y="0.0" font-size="10.7" textLength="31.9" lengthAdjust="spacingAndGlyphs">Temp.</text><text x="30.3" y="0.0" font-size="10.7" textLength="21.2" lengthAdjust="spacingAndGlyphs">(°C)</text></g>
<g transform="translate(843 297.1) rotate(-90)"><text x="-50.5" y="0.0" font-size="10.5" textLength="68.9" lengthAdjust="spacingAndGlyphs">Niederschlag</text><text x="21.7" y="0.0" font-size="10.5" textLength="28.8" lengthAdjust="spacingAndGlyphs">(mm)</text></g>
<path d="M-3.2 40.9 h11" stroke="#001ee1" stroke-width="1.6"/>
<text x="8.3" y="43.0" font-size="10.4" textLength="12.9" lengthAdjust="spacingAndGlyphs">P1</text>
<path d="M53.1 40.9 h11" stroke="#0046dc" stroke-width="1.6"/>
<text x="64.5" y="43.0" font-size="10.4" textLength="12.9" lengthAdjust="spacingAndGlyphs">P2</text>
<path d="M-3.2 55.9 h11" stroke="#0069d7" stroke-width="1.6"/>
<text x="8.3" y="58.0" font-size="10.4" textLength="12.9" lengthAdjust="spacingAndGlyphs">P3</text>
<path d="M53.1 55.9 h11" stroke="#0096cd" stroke-width="1.6"/>
<text x="64.5" y="58.0" font-size="10.4" textLength="12.9" lengthAdjust="spacingAndGlyphs">P4</text>
<path d="M-3.2 70.9 h11" stroke="#00aab9" stroke-width="1.6"/>
<text x="8.3" y="73.0" font-size="10.4" textLength="12.9" lengthAdjust="spacingAndGlyphs">P5</text>
<path d="M53.1 70.9 h11" stroke="#00aa7d" stroke-width="1.6"/>
<text x="64.5" y="73.0" font-size="10.4" textLength="12.9" lengthAdjust="spacingAndGlyphs">P6</text>
<path d="M-3.2 85.9 h11" stroke="#00b45a" stroke-width="1.6"/>
<text x="8.3" y="88.0" font-size="10.4" textLength="12.9" lengthAdjust="spacingAndGlyphs">P7</text>
<path d="M53.1 85.9 h11" stroke="#00be3c" stroke-width="1.6"/>
<text x="64.5" y="88.0" font-size="10.4" textLength="12.9" lengthAdjust="spacingAndGlyphs">P8</text>
<path d="M-3.2 100.9 h11" stroke="#00c81e" stroke-width="1.6"/>
<text x="8.3" y="103.0" font-size="10.4" textLength="12.9" lengthAdjust="spacingAndGlyphs">P9</text>
<path d="M53.1 100.9 h11" stroke="#00d400" stroke-width="1.6"/>
<text x="64.5" y="103.0" font-size="10.4" textLength="19.5" lengthAdjust="spacingAndGlyphs">P10</text>
<path d="M-3.2 115.9 h11" stroke="#d2c800" stroke-width="1.6"/>
<text x="8.3" y="118.0" font-size="10.4" textLength="19.5" lengthAdjust="spacingAndGlyphs">P11</text>
<path d="M53.1 115.9 h11" stroke="#d2b400" stroke-width="1.6"/>
<text x="64.5" y="118.0" font-size="10.4" textLength="19.5" lengthAdjust="spacingAndGlyphs">P12</text>
<path d="M-3.2 130.9 h11" stroke="#d2a000" stroke-width="1.6"/>
<text x="8.3" y="133.0" font-size="10.4" textLength="19.5" lengthAdjust="spacingAndGlyphs">P13</text>
<path d="M53.1 130.9 h11" stroke="#d28c00" stroke-width="1.6"/>
<text x="64.5" y="133.0" font-size="10.4" textLength="19.5" lengthAdjust="spacingAndGlyphs">P14</text>
<path d="M-3.2 145.9 h11" stroke="#d27800" stroke-width="1.6"/>
<text x="8.3" y="148.0" font-size="10.4" textLength="19.5" lengthAdjust="spacingAndGlyphs">P15</text>
<path d="M53.1 145.9 h11" stroke="#cd690a" stroke-width="1.6"/>
<text x="64.5" y="148.0" font-size="10.4" textLength="19.5" lengthAdjust="spacingAndGlyphs">P16</text>
<path d="M-3.2 160.9 h11" stroke="#c85a14" stroke-width="1.6"/>
<text x="8.3" y="163.0" font-size="10.4" textLength="19.5" lengthAdjust="spacingAndGlyphs">P17</text>
<path d="M53.1 160.9 h11" stroke="#c3461e" stroke-width="1.6"/>
<text x="64.5" y="163.0" font-size="10.4" textLength="19.5" lengthAdjust="spacingAndGlyphs">P18</text>
<path d="M-3.2 175.9 h11" stroke="#be3223" stroke-width="1.6"/>
<text x="8.3" y="178.0" font-size="10.4" textLength="19.5" lengthAdjust="spacingAndGlyphs">P19</text>
<path d="M53.1 175.9 h11" stroke="#af1e1e" stroke-width="1.6"/>
<text x="64.5" y="178.0" font-size="10.4" textLength="19.5" lengthAdjust="spacingAndGlyphs">P20</text>
<path d="M-3.2 190.9 h11" stroke="#001ee1" stroke-width="1.6"/>
<text x="8.3" y="193.0" font-size="10.4" textLength="19.5" lengthAdjust="spacingAndGlyphs">P21</text>
<path d="M53.1 190.9 h11" stroke="#0046dc" stroke-width="1.6"/>
<text x="64.5" y="193.0" font-size="10.4" textLength="19.5" lengthAdjust="spacingAndGlyphs">P22</text>
<path d="M-3.2 205.9 h11" stroke="#0069d7" stroke-width="1.6"/>
<text x="8.3" y="208.0" font-size="10.4" textLength="19.5" lengthAdjust="spacingAndGlyphs">P23</text>
<path d="M53.1 205.9 h11" stroke="#0096cd" stroke-width="1.6"/>
<text x="64.5" y="208.0" font-size="10.4" textLength="19.5" lengthAdjust="spacingAndGlyphs">P24</text>
<path d="M-3.2 220.9 h11" stroke="#00aab9" stroke-width="1.6"/>
<text x="8.3" y="223.0" font-size="10.4" textLength="19.5" lengthAdjust="spacingAndGlyphs">P25</text>
<path d="M53.1 220.9 h11" stroke="#00aa7d" stroke-width="1.6"/>
<text x="64.5" y="223.0" font-size="10.4" textLength="19.5" lengthAdjust="spacingAndGlyphs">P26</text>
<path d="M-3.2 235.9 h11" stroke="#00b45a" stroke-width="1.6"/>
<text x="8.3" y="238.0" font-size="10.4" textLength="19.5" lengthAdjust="spacingAndGlyphs">P27</text>
<path d="M53.1 235.9 h11" stroke="#00be3c" stroke-width="1.6"/>
<text x="64.5" y="238.0" font-size="10.4" textLength="19.5" lengthAdjust="spacingAndGlyphs">P28</text>
<path d="M-3.2 250.9 h11" stroke="#00c81e" stroke-width="1.6"/>
<text x="8.3" y="253.0" font-size="10.4" textLength="19.5" lengthAdjust="spacingAndGlyphs">P29</text>
<path d="M53.1 250.9 h11" stroke="#00d400" stroke-width="1.6"/>
<text x="64.5" y="253.0" font-size="10.4" textLength="19.5" lengthAdjust="spacingAndGlyphs">P30</text>
<path d="M-3.2 266.9 h11" stroke="#0000ff" stroke-width="2.1"/><text x="8.2" y="269.1" font-size="10.4" textLength="37.7" lengthAdjust="spacingAndGlyphs">Control</text>
<path d="M53.1 266.9 h11" stroke="#fff" stroke-width="2.1"/><text x="64.5" y="269.1" font-size="10.4" textLength="21.9" lengthAdjust="spacingAndGlyphs">Ens.</text><text x="89.7" y="269.1" font-size="10.4" textLength="29.6" lengthAdjust="spacingAndGlyphs">mean</text>
<path d="M53.1 293.1 h11" stroke="#f04040" stroke-width="2.1"/><text x="64.5" y="296.6" font-size="10.4" textLength="56.8" lengthAdjust="spacingAndGlyphs">1991-2020</text><text x="64.5" y="306.7" font-size="10.4" textLength="29.6" lengthAdjust="spacingAndGlyphs">mean</text>
<path d="M-3.2 307.1 h11" stroke="#00e000" stroke-width="2.1"/><text x="8.2" y="308.4" font-size="10.4" textLength="25.5" lengthAdjust="spacingAndGlyphs">Oper</text>
</svg></body></html>
